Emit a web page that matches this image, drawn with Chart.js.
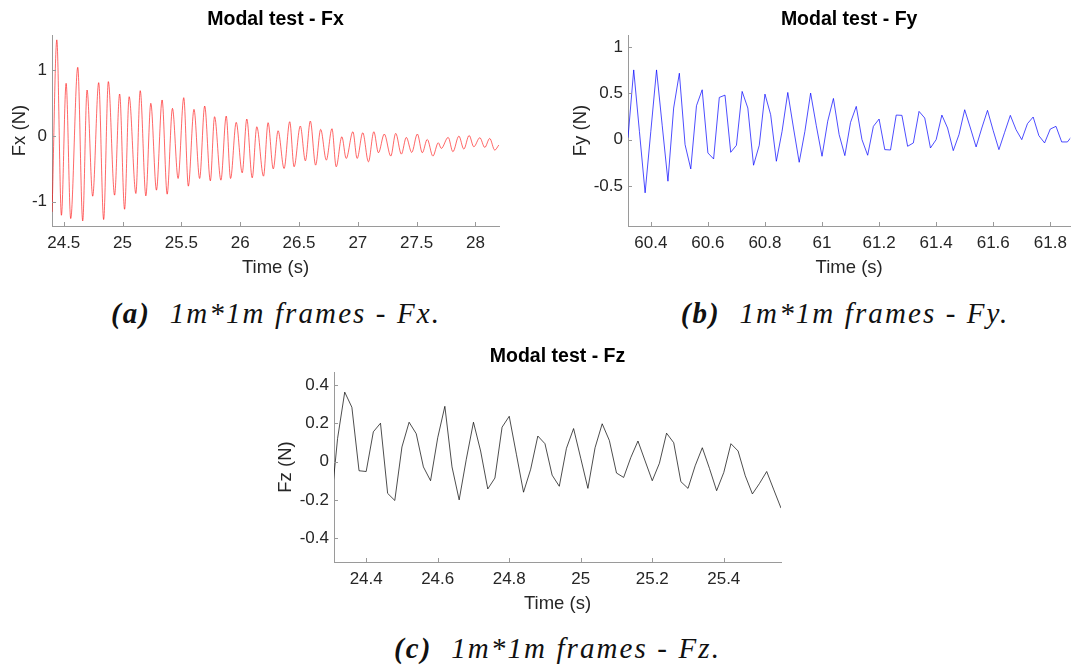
<!DOCTYPE html>
<html>
<head>
<meta charset="utf-8">
<script src="https://cdn.jsdelivr.net/npm/chart.js@4.4.1/dist/chart.umd.min.js"></script>
<style>
    body { margin: 0; background: #fff; }
    #page { position: relative; width: 1074px; height: 665px; overflow: hidden; background: #fff; }
    canvas { position: absolute; }
    .cap {
        position: absolute;
        text-align: center;
        font-family: "Liberation Serif", serif;
        font-style: italic;
        font-size: 29px;
        letter-spacing: 2.1px;
        line-height: 30px;
        color: #111;
        white-space: pre;
    }
    .cap b { font-weight: bold; }
</style>
</head>
<body>
<div id="page">
    <canvas id="chartFx" width="537" height="290" style="left:0;top:0"></canvas>
    <canvas id="chartFy" width="514" height="290" style="left:560px;top:0"></canvas>
    <canvas id="chartFz" width="560" height="289" style="left:270px;top:337px"></canvas>
    <div class="cap" style="left:0;width:552px;top:298px"><b>(a)</b>  1m*1m frames - Fx.</div>
    <div class="cap" style="left:560px;width:570px;top:298px"><b>(b)</b>  1m*1m frames - Fy.</div>
    <div class="cap" style="left:270px;width:575px;top:633px"><b>(c)</b>  1m*1m frames - Fz.</div>
</div>
<script>
// Fx: peaks and troughs of the decaying oscillation
var fxTime = [
    24.401, 24.441, 24.480, 24.520, 24.559, 24.619, 24.661, 24.698, 24.746, 24.797,
    24.839, 24.879, 24.932, 24.975, 25.017, 25.056, 25.113, 25.150, 25.198, 25.240,
    25.288, 25.336, 25.379, 25.424, 25.472, 25.520, 25.559, 25.607, 25.655, 25.698,
    25.746, 25.782, 25.836, 25.881, 25.918, 25.966, 26.017, 26.056, 26.102, 26.141,
    26.198, 26.237, 26.281, 26.322, 26.373, 26.421, 26.458, 26.511, 26.554, 26.596,
    26.641, 26.684, 26.732, 26.780, 26.816, 26.864, 26.901, 26.958, 26.994, 27.042,
    27.090, 27.136, 27.175, 27.225, 27.280, 27.322, 27.370, 27.412, 27.458, 27.506,
    27.548, 27.590, 27.638, 27.684, 27.709, 27.768, 27.808, 27.859, 27.901, 27.946,
    27.986, 28.037, 28.079, 28.121, 28.164, 28.198
];
var fxForce = [
    -1.155, 1.466, -1.206, 0.804, -1.257, 1.048, -1.293, 0.702, -0.916, 0.814,
    -1.272, 0.830, -0.900, 0.641, -1.115, 0.600, -0.875, 0.692, -0.911, 0.499,
    -0.824, 0.550, -0.885, 0.422, -0.646, 0.585, -0.763, 0.407, -0.646, 0.458,
    -0.682, 0.295, -0.672, 0.305, -0.646, 0.209, -0.560, 0.260, -0.636, 0.142,
    -0.611, 0.204, -0.500, 0.081, -0.494, 0.219, -0.468, 0.153, -0.377, 0.229,
    -0.443, 0.102, -0.366, 0.112, -0.468, -0.010, -0.341, 0.066, -0.341, 0.051,
    -0.392, 0.066, -0.254, 0.031, -0.305, 0.041, -0.275, -0.020, -0.249, 0.031,
    -0.254, -0.051, -0.305, -0.102, -0.188, -0.020, -0.239, 0.000, -0.198, 0.010,
    -0.163, -0.025, -0.173, -0.036, -0.214, -0.137
];

// Fy: sampled every 0.02 s from 60.32 s
var fyStart = 60.32;
var fyStep = 0.02;
var fyForce = [
    0.02, 0.755, 0.09, -0.576, 0.09, 0.755, 0.15, -0.45, 0.342, 0.719,
    -0.054, -0.317, 0.367, 0.54, -0.144, -0.209, 0.457, 0.482, -0.137, -0.061,
    0.522, 0.342, -0.277, -0.061, 0.493, 0.27, -0.234, 0.09, 0.511, 0.126,
    -0.245, 0.09, 0.504, 0.15, -0.18, 0.2, 0.446, 0.054, -0.173, 0.187,
    0.36, 0.0, -0.169, 0.144, 0.223, -0.108, -0.112, 0.266, 0.263, -0.072,
    -0.036, 0.306, 0.234, -0.09, 0.0, 0.266, 0.126, -0.119, 0.054, 0.324,
    0.126, -0.079, 0.126, 0.317, 0.097, -0.108, 0.079, 0.263, 0.108, 0.0,
    0.173, 0.245, 0.043, -0.036, 0.115, 0.144, -0.025, -0.025, 0.054
];

// Fz: sampled every 0.02 s from 24.30 s
var fzStart = 24.30;
var fzStep = 0.02;
var fzForce = [
    -0.26, 0.12, 0.362, 0.283, -0.048, -0.052, 0.155, 0.2, -0.166, -0.203,
    0.076, 0.205, 0.145, -0.028, -0.1, 0.124, 0.288, -0.028, -0.2, 0.012,
    0.205, 0.055, -0.143, -0.086, 0.179, 0.236, 0.038, -0.16, -0.04, 0.133,
    0.093, -0.071, -0.129, 0.069, 0.172, 0.017, -0.14, 0.072, 0.197, 0.11,
    -0.06, -0.083, 0.021, 0.107, 0.003, -0.1, -0.009, 0.148, 0.098, -0.105,
    -0.14, -0.022, 0.072, -0.036, -0.152, -0.057, 0.093, 0.055, -0.074, -0.169,
    -0.114, -0.052, -0.148, -0.243
];

// tick positions
var fxTimeTicks = [24.5, 25, 25.5, 26, 26.5, 27, 27.5, 28];
var fxForceTicks = [-1, 0, 1];
var fyTimeTicks = [60.4, 60.6, 60.8, 61, 61.2, 61.4, 61.6, 61.8];
var fyForceTicks = [-0.5, 0, 0.5, 1];
var fzTimeTicks = [24.4, 24.6, 24.8, 25, 25.2, 25.4];
var fzForceTicks = [-0.4, -0.2, 0, 0.2, 0.4];

var axisColor = '#9a9a9a';
var textColor = '#262626';
var sansFont = '"Liberation Sans", Arial, sans-serif';

function gridTimes(start, step, values){
    return values.map((v, i) => +(start + i * step).toFixed(2));
}

// short tick marks drawn inward from both axes
var innerTicks = {
    id: 'innerTicks',
    afterDatasetsDraw(chart){
        var ctx = chart.ctx;
        var area = chart.chartArea;
        var xs = chart.scales.x;
        var ys = chart.scales.y;
        ctx.save();
        ctx.strokeStyle = axisColor;
        ctx.lineWidth = 1;
        ctx.beginPath();
        xs.ticks.forEach(t => {
            var px = Math.round(xs.getPixelForValue(t.value)) + 0.5;
            ctx.moveTo(px, area.bottom);
            ctx.lineTo(px, area.bottom - 4);
        });
        ys.ticks.forEach(t => {
            var py = Math.round(ys.getPixelForValue(t.value)) + 0.5;
            ctx.moveTo(area.left, py);
            ctx.lineTo(area.left + 4, py);
        });
        ctx.stroke();
        ctx.restore();
    }
};

function makeForceChart(canvasId, cfg){
    var points = cfg.time.map((t, i) => ({x: t, y: cfg.force[i]}));

    return new Chart(document.getElementById(canvasId), {
        type: 'line',
        data: {
            datasets: [{
                data: points,
                borderColor: cfg.color,
                borderWidth: cfg.lineWidth,
                pointRadius: 0,
                fill: false,
                tension: cfg.smooth ? 0.4 : 0,
                cubicInterpolationMode: cfg.smooth ? 'monotone' : 'default'
            }]
        },
        options: {
            responsive: false,
            animation: false,
            layout: { padding: { left: 0, right: cfg.padRight, top: 0, bottom: 0 } },
            plugins: {
                legend: { display: false },
                tooltip: { enabled: false },
                title: {
                    display: true,
                    fullSize: false, // centred over the plot area, not the whole canvas
                    text: cfg.title,
                    color: '#000',
                    font: { family: sansFont, size: 19.5, weight: 'bold', lineHeight: 1.2 },
                    padding: { top: cfg.titleTop, bottom: 35 - cfg.titleTop - 23.4 }
                }
            },
            scales: {
                x: {
                    type: 'linear',
                    min: cfg.xMin,
                    max: cfg.xMax,
                    afterBuildTicks: s => { s.ticks = cfg.xTicks.map(v => ({value: v})); },
                    afterFit: s => { s.height = cfg.xHeight; },
                    grid: { display: true, drawOnChartArea: false, drawTicks: false },
                    border: { display: true, color: axisColor, width: 1 },
                    ticks: {
                        color: textColor,
                        padding: 7,
                        maxRotation: 0,
                        autoSkip: false,
                        font: { family: sansFont, size: 17 },
                        callback: v => String(v)
                    },
                    title: {
                        display: true,
                        text: 'Time (s)',
                        color: textColor,
                        font: { family: sansFont, size: 18.5, lineHeight: 1.2 },
                        padding: { top: 0, bottom: 10.5 }
                    }
                },
                y: {
                    type: 'linear',
                    min: cfg.yMin,
                    max: cfg.yMax,
                    afterBuildTicks: s => { s.ticks = cfg.yTicks.map(v => ({value: v})); },
                    afterFit: s => { s.width = cfg.yWidth; },
                    grid: { display: true, drawOnChartArea: false, drawTicks: false },
                    border: { display: true, color: axisColor, width: 1 },
                    ticks: {
                        color: textColor,
                        padding: 5,
                        autoSkip: false,
                        font: { family: sansFont, size: 17 },
                        callback: v => String(v)
                    },
                    title: {
                        display: true,
                        text: cfg.yLabel,
                        color: textColor,
                        font: { family: sansFont, size: 18.5, lineHeight: 1.2 },
                        padding: { top: cfg.yTitleOffset - 11.1, bottom: 0 }
                    }
                }
            }
        },
        plugins: [innerTicks]
    });
}

makeForceChart('chartFx', {
    title: 'Modal test - Fx', yLabel: 'Fx (N)', color: '#ff0000', smooth: true, lineWidth: 0.6,
    time: fxTime, force: fxForce,
    xMin: 24.4, xMax: 28.2, yMin: -1.37, yMax: 1.54,
    xTicks: fxTimeTicks, yTicks: fxForceTicks,
    yWidth: 52, xHeight: 64, padRight: 38, titleTop: 8, yTitleOffset: 20
});

makeForceChart('chartFy', {
    title: 'Modal test - Fy', yLabel: 'Fy (N)', color: '#0000ff', smooth: false, lineWidth: 0.7,
    time: gridTimes(fyStart, fyStep, fyForce), force: fyForce,
    xMin: 60.32, xMax: 61.87, yMin: -0.935, yMax: 1.133,
    xTicks: fyTimeTicks, yTicks: fyForceTicks,
    yWidth: 68, xHeight: 64, padRight: 1, titleTop: 8, yTitleOffset: 21
});

makeForceChart('chartFz', {
    title: 'Modal test - Fz', yLabel: 'Fz (N)', color: '#000000', smooth: false, lineWidth: 0.7,
    time: gridTimes(fzStart, fzStep, fzForce), force: fzForce,
    xMin: 24.31, xMax: 25.56, yMin: -0.524, yMax: 0.467,
    xTicks: fzTimeTicks, yTicks: fzForceTicks,
    yWidth: 64, xHeight: 64, padRight: 49, titleTop: 8, yTitleOffset: 16
});
</script>
</body>
</html>
